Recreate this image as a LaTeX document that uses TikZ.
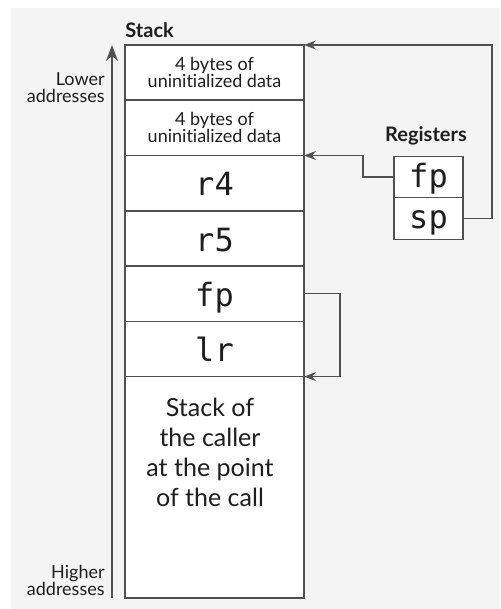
\documentclass[tikz,border=0pt]{standalone}
\usepackage{fontspec}
\setmainfont{Lato}[Ligatures=NoCommon]
\setmonofont{DejaVu Sans Mono}
\usetikzlibrary{arrows.meta,positioning}
\definecolor{bggray}{HTML}{F4F4F4}
\definecolor{linegray}{HTML}{505050}
\definecolor{ink}{HTML}{1E1E1E}

\begin{document}
\begin{tikzpicture}[x=0.5pt,y=-0.5pt,
    cell/.style={rectangle,draw=linegray,fill=white,line width=0.7pt,
        minimum width=89.5pt,minimum height=27.6pt,inner sep=0pt,outer sep=0pt,text=ink},
    small/.style={font=\fontsize{9}{8.5}\selectfont,align=center,text=ink},
    mono/.style={font=\ttfamily\fontsize{16}{16}\selectfont,text height=14pt,text depth=1.5pt},
    regcell/.style={cell,minimum width=34.5pt,minimum height=20.75pt},
    head/.style={font=\bfseries\fontsize{10}{12}\selectfont,text=ink,inner sep=0pt},
    link/.style={draw=linegray,line width=0.6pt,-{Stealth[length=6pt,width=4.5pt,inset=2pt]}},
    axis/.style={draw=linegray,line width=0.9pt,-{Stealth[length=8pt,width=6pt,inset=2.5pt]}}]
    \useasboundingbox (0,0) rectangle (500,609);
    \fill[white] (0,0) rectangle (500,609);
    \fill[bggray] (11,8) rectangle (500,609);

    % Stack cells
    \node[cell,small] (ubyte1) at (214.5,72.6) {4 bytes of\\uninitialized data};
    \node[cell,small] (ubyte2) at (214.5,127.9) {4 bytes of\\uninitialized data};
    \foreach \lbl/\nm [count=\i] in {r4/sr4,r5/sr5,fp/sfp,lr/slr} {
        \node[cell,mono] (\nm) at (214.5,{128+\i*55.25}) {\lbl};
    }
    \node[cell,minimum height=110.75pt] (caller) at (214.5,487.25) {};
    \node[font=\fontsize{12.5}{15}\selectfont,align=center,text=ink] (callertxt) at (210,452)
        {Stack of\\the caller\\at the point\\of the call};
    \node[head,anchor=base west] (stacktitle) at (125,38) {Stack};

    % Address direction
    \coordinate (axbot) at (112,598);
    \coordinate (axtop) at (112,45);
    \draw[axis] (axbot) -- (axtop);
    \node[small,align=right,anchor=east,inner sep=0pt] (lower) at (105,88) {Lower\\addresses};
    \node[small,align=right,anchor=east,inner sep=0pt] (higher) at (105,580) {Higher\\addresses};

    % Registers
    \node[head,anchor=base] (regtitle) at (426,142) {Registers};
    \node[regcell,mono,text height=12pt,text depth=2pt] (rfp) at (428.5,177) {fp};
    \node[regcell,mono,text height=12pt,text depth=2pt] (rsp) at (428.5,218.5) {sp};

    % Pointers
    \draw[link] (rsp.east) -- ++(29,0) |- (ubyte1.north east);
    \draw[link] (rfp.west) -- ++(-31,0) |- (ubyte2.south east);
    \draw[link] (sfp.east) -- ++(36,0) |- (slr.south east);
\end{tikzpicture}
\end{document}
